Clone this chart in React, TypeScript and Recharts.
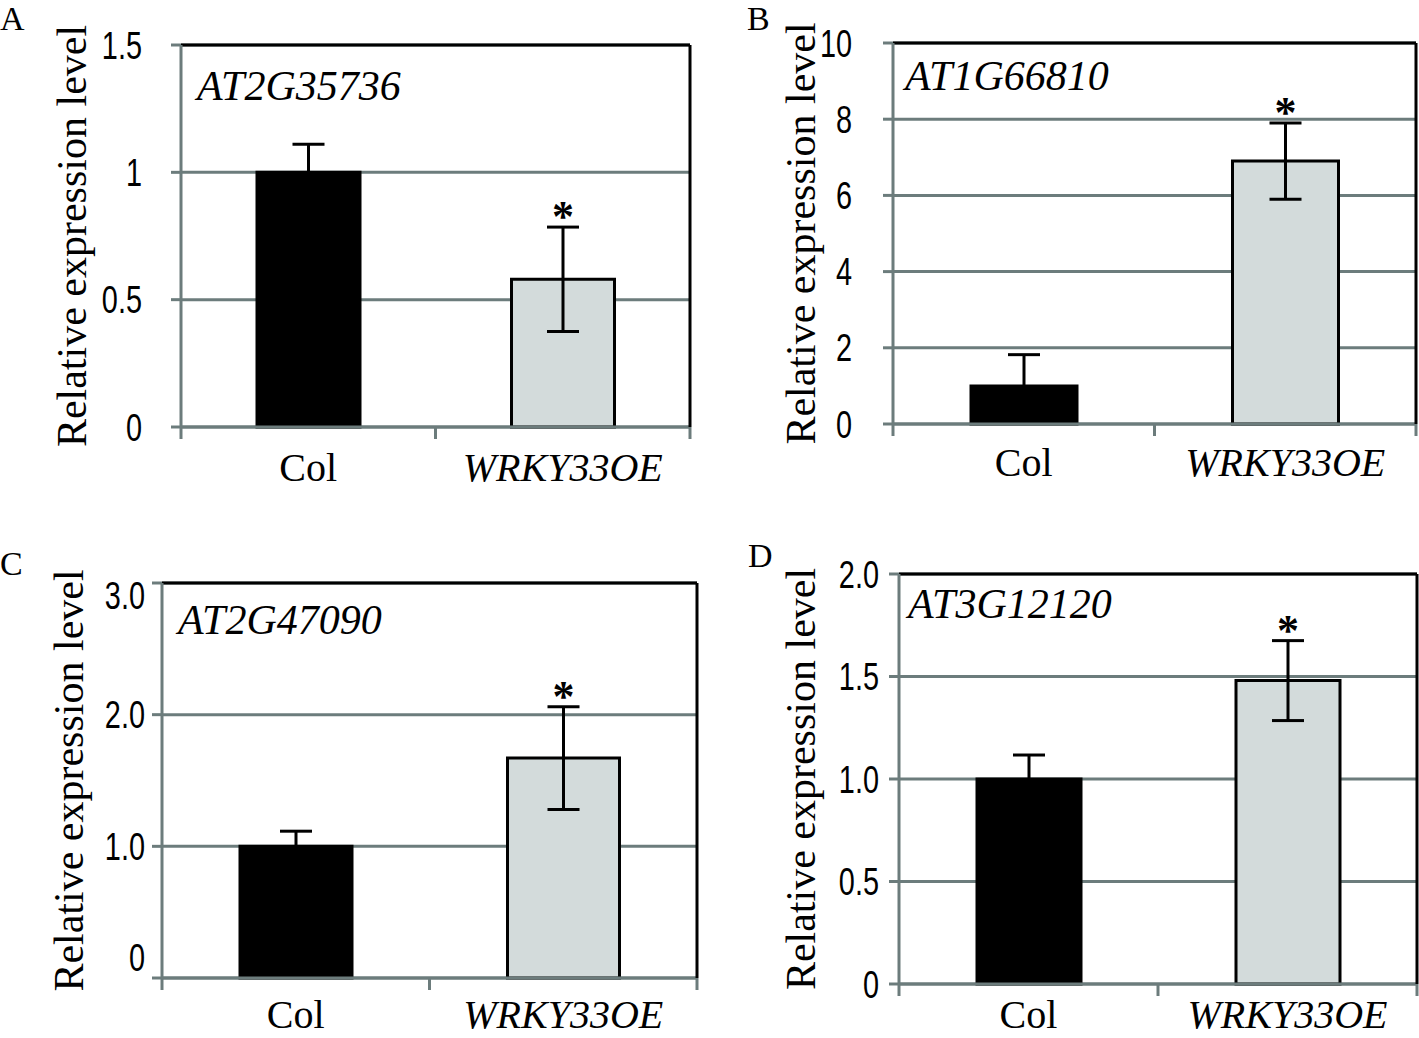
import React from 'react';
import {
  BarChart,
  Bar,
  XAxis,
  YAxis,
  CartesianGrid,
  ErrorBar,
  Cell,
  LabelList,
  ReferenceLine,
  Customized
} from 'recharts';

// genotypes on the x axis
const genotypes = ['Col', 'WRKY33OE'];
const starMarks = ['', '*'];

// A - AT2G35736
const meanA = [1.0, 0.58];
const errA = [0.11, 0.205];
const ticksA = [0, 0.5, 1, 1.5];
const tickLabelsA = ['0', '0.5', '1', '1.5'];

// B - AT1G66810
const meanB = [1.0, 6.9];
const errB = [0.82, 1.0];
const ticksB = [0, 2, 4, 6, 8, 10];
const tickLabelsB = ['0', '2', '4', '6', '8', '10'];

// C - AT2G47090
const meanC = [1.0, 1.67];
const errC = [0.115, 0.39];
const ticksC = [0, 1, 2, 3];
const tickLabelsC = ['0', '1.0', '2.0', '3.0'];

// D - AT3G12120
const meanD = [1.0, 1.48];
const errD = [0.117, 0.195];
const ticksD = [0, 0.5, 1, 1.5, 2];
const tickLabelsD = ['0', '0.5', '1.0', '1.5', '2.0'];

const SERIF = "'Liberation Serif', 'Times New Roman', serif";
const SANS = "'Liberation Sans', Arial, sans-serif";
const GRID = '#6c7c7c';
const LIGHT = '#d3dbdb';

interface Row {
  name: string;
  value: number;
  err: number;
  mark: string;
}

const makeRows = (mean: number[], err: number[]): Row[] =>
  genotypes.map((g, i) => ({ name: g, value: mean[i], err: err[i], mark: starMarks[i] }));

interface PanelProps {
  letter: string;
  gene: string;
  rows: Row[];
  ticks: number[];
  tickLabels: string[];
  left: number;
  top: number;
  width: number;
  height: number;
  yAxisWidth: number;
  margin: { top: number; right: number; bottom: number; left: number };
  tickMargin: number;
  barSize: number;
  catOffset: number;
  tickShift?: Record<string, number>;
  letterPos: [number, number];
  genePos: [number, number];
  yLabelX: number;
}

const Panel: React.FC<PanelProps> = (p) => {
  const max = p.ticks[p.ticks.length - 1];
  const plotTop = p.margin.top;
  const plotBottom = p.height - p.margin.bottom - 50;
  const plotLeft = p.margin.left + p.yAxisWidth;
  const plotRight = p.width - p.margin.right - 2;
  const half = (plotRight - plotLeft) / 4;
  const midY = (plotTop + plotBottom) / 2;

  // narrow sans tick numbers, squeezed horizontally
  const renderYTick = (t: any) => {
    const idx = p.ticks.indexOf(t.payload.value);
    const label = idx >= 0 ? p.tickLabels[idx] : String(t.payload.value);
    const dy = p.tickShift && p.tickShift[label] ? p.tickShift[label] : 0;
    return (
      <text x={0} y={0} transform={`translate(${t.x}, ${t.y + dy}) scale(0.76, 1)`}
        textAnchor="end" dominantBaseline="central"
        fontFamily={SANS} fontSize={38} fill="#000">
        {label}
      </text>
    );
  };

  const renderXTick = (t: any) => {
    const off = t.payload && typeof t.payload.offset === 'number' && t.payload.offset > 0 ? t.payload.offset : half;
    const italic = t.payload.value !== 'Col';
    return (
      <g>
        <line x1={t.x - off} x2={t.x - off} y1={t.y} y2={t.y + 12} stroke={GRID} strokeWidth={3} />
        {t.index === genotypes.length - 1 && (
          <line x1={t.x + off} x2={t.x + off} y1={t.y} y2={t.y + 12} stroke={GRID} strokeWidth={3} />
        )}
        <text x={t.x} y={t.y + p.catOffset} textAnchor="middle" fontFamily={SERIF} fontSize={40}
          fontStyle={italic ? 'italic' : 'normal'} fill="#000">
          {t.payload.value}
        </text>
      </g>
    );
  };

  const renderStar = (l: any) => {
    const row = p.rows[l.index];
    if (!row || !row.mark) return null;
    const perUnit = l.height / row.value;
    const errTop = l.y - row.err * perUnit;
    return (
      <text x={l.x + l.width / 2} y={errTop + 4} textAnchor="middle" fontFamily={SERIF}
        fontSize={44} fontWeight="bold" fill="#000">
        {row.mark}
      </text>
    );
  };

  const Texts = () => (
    <g>
      <text x={p.letterPos[0]} y={p.letterPos[1]} fontFamily={SERIF} fontSize={34} fill="#000">
        {p.letter}
      </text>
      <text x={p.genePos[0]} y={p.genePos[1]} fontFamily={SERIF} fontSize={42} fontStyle="italic" fill="#000">
        {p.gene}
      </text>
      <text x={p.yLabelX} y={midY} transform={`rotate(-90, ${p.yLabelX}, ${midY})`}
        textAnchor="middle" dominantBaseline="central" fontFamily={SERIF} fontSize={42} fill="#000">
        Relative expression level
      </text>
    </g>
  );

  return (
    <div style={{ position: 'absolute', left: p.left, top: p.top }}>
      <BarChart width={p.width} height={p.height} data={p.rows} margin={p.margin}>
        <CartesianGrid vertical={false} stroke={GRID} strokeWidth={3} />
        <XAxis dataKey="name" height={50} tickLine={false} tickSize={0} tickMargin={0}
          axisLine={{ stroke: GRID, strokeWidth: 3 }} tick={renderXTick} interval={0} />
        <YAxis domain={[0, max]} ticks={p.ticks} width={p.yAxisWidth} interval={0}
          tickSize={10} tickMargin={p.tickMargin}
          tickLine={{ stroke: GRID, strokeWidth: 3 }}
          axisLine={{ stroke: GRID, strokeWidth: 3 }} tick={renderYTick} />
        <YAxis yAxisId="right" orientation="right" domain={[0, max]} width={2}
          tick={false} tickLine={false} axisLine={{ stroke: '#000', strokeWidth: 3 }} />
        <ReferenceLine y={max} stroke="#000" strokeWidth={3} />
        <Bar dataKey="value" barSize={p.barSize} isAnimationActive={false}>
          {p.rows.map((r, i) => (
            <Cell key={r.name} fill={i === 0 ? '#000' : LIGHT} stroke="#000" strokeWidth={3} />
          ))}
          <ErrorBar dataKey="err" width={16} stroke="#000" strokeWidth={3} direction="y" />
          <LabelList dataKey="mark" content={renderStar} />
        </Bar>
        <Customized component={Texts} />
      </BarChart>
    </div>
  );
};

const App: React.FC = () => {
  return (
    <div style={{ position: 'absolute', left: 0, top: 0, width: 1419, height: 1038, background: '#fff' }}>
      <Panel letter="A" gene="AT2G35736" rows={makeRows(meanA, errA)} ticks={ticksA} tickLabels={tickLabelsA}
        left={0} top={0} width={709} height={520} yAxisWidth={181}
        margin={{ top: 45, right: 17, bottom: 43, left: 0 }} tickMargin={29} barSize={103} catOffset={54}
        letterPos={[0, 30]} genePos={[197, 100]} yLabelX={72} />
      <Panel letter="B" gene="AT1G66810" rows={makeRows(meanB, errB)} ticks={ticksB} tickLabels={tickLabelsB}
        left={709} top={0} width={710} height={520} yAxisWidth={184}
        margin={{ top: 43, right: 1, bottom: 46, left: 0 }} tickMargin={31} barSize={106} catOffset={52}
        letterPos={[38, 30]} genePos={[196, 90]} yLabelX={92} />
      <Panel letter="C" gene="AT2G47090" rows={makeRows(meanC, errC)} ticks={ticksC} tickLabels={tickLabelsC}
        left={0} top={520} width={709} height={518} yAxisWidth={162}
        margin={{ top: 63, right: 10, bottom: 10, left: 0 }} tickMargin={7} barSize={112} catOffset={50}
        tickShift={{ '3.0': 12, '0': -21 }}
        letterPos={[0, 55]} genePos={[178, 114]} yLabelX={69} />
      <Panel letter="D" gene="AT3G12120" rows={makeRows(meanD, errD)} ticks={ticksD} tickLabels={tickLabelsD}
        left={709} top={520} width={710} height={518} yAxisWidth={190}
        margin={{ top: 54, right: 0, bottom: 4, left: 0 }} tickMargin={10} barSize={104} catOffset={44}
        letterPos={[39, 47]} genePos={[199, 98]} yLabelX={92} />
    </div>
  );
};

export default App;
